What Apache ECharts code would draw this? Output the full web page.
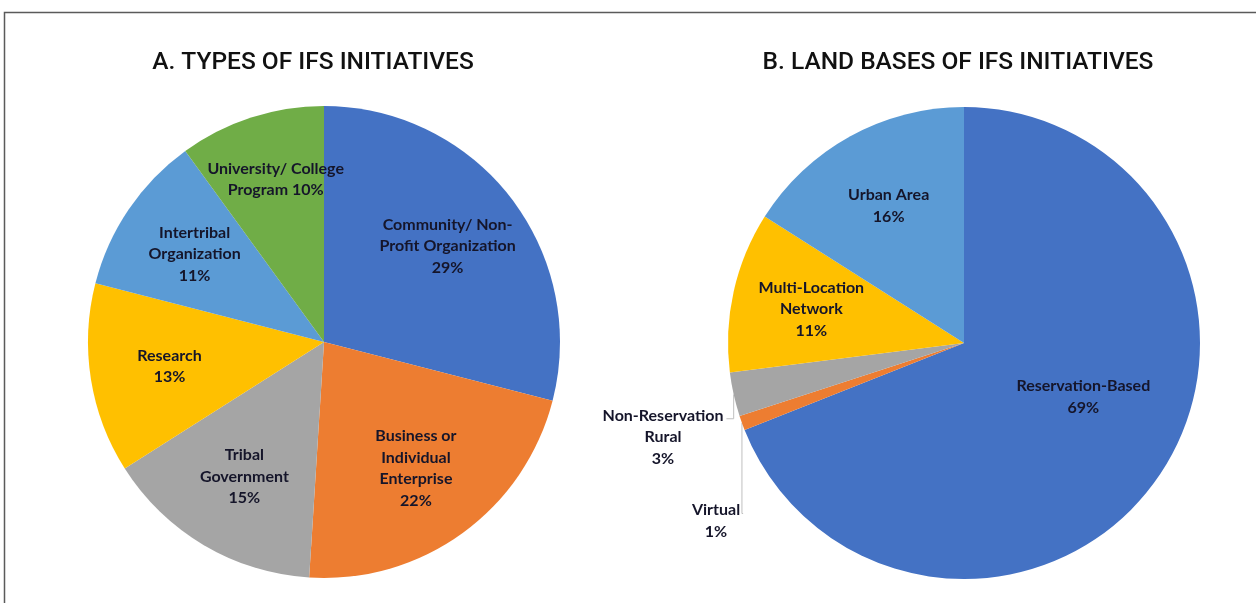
<!DOCTYPE html>
<html>
<head>
<meta charset="utf-8">
<script src="https://cdn.jsdelivr.net/npm/echarts@6/dist/echarts.min.js"></script>
<style>
html,body{margin:0;padding:0;background:#fff;}
#main{width:1256px;height:603px;}
</style>
</head>
<body>
<div id="main"></div>
<script>
// ---- Data ----
const titleA = 'A. TYPES OF IFS INITIATIVES';
const titleB = 'B. LAND BASES OF IFS INITIATIVES';

const typeCategories = ['Community/ Non-Profit Organization', 'Business or Individual Enterprise', 'Tribal Government', 'Research', 'Intertribal Organization', 'University/ College Program'];
const typeLabels = ['Community/ Non-\nProfit Organization', 'Business or\nIndividual\nEnterprise', 'Tribal\nGovernment', 'Research', 'Intertribal\nOrganization', 'University/ College\nProgram'];
const typeValues = [29, 22, 15, 13, 11, 10];

const landCategories = ['Reservation-Based', 'Virtual', 'Non-Reservation Rural', 'Multi-Location Network', 'Urban Area'];
const landLabels = ['Reservation-Based', 'Virtual', 'Non-Reservation\nRural', 'Multi-Location\nNetwork', 'Urban Area'];
const landValues = [69, 1, 3, 11, 16];

// ---- Styles ----
const typeColors = ['#4472C4', '#ED7D31', '#A5A5A5', '#FFC000', '#5B9BD5', '#70AD47'];
const landColors = ['#4472C4', '#ED7D31', '#A5A5A5', '#FFC000', '#5B9BD5'];
const outsideLand = ['Virtual', 'Non-Reservation Rural'];

const FONT = 'Lato';
const TXT = '#15152a';
const R = 236;
const centerA = [324, 342];
const centerB = [964, 343];
const LH = 21.5;

function fmtFor(txt) {
  return function (p) {
    const sep = p.name.indexOf('University') === 0 ? ' ' : '\n';
    return txt + sep + p.value + '%';
  };
}
const labelStyle = {
  fontFamily: FONT, fontWeight: 'bold', fontSize: 16, lineHeight: LH,
  color: TXT, align: 'center'
};

// point on a pie's rim at the middle of slice i (angles from the data)
function rimPoint(vals, i, center) {
  const total = vals.reduce((a, b) => a + b, 0);
  let cum = 0;
  for (let k = 0; k < i; k++) cum += vals[k];
  const ang = (cum + vals[i] / 2) / total * 2 * Math.PI;
  return [center[0] + R * Math.sin(ang), center[1] - R * Math.cos(ang)];
}

// placement of the two outside labels (label centres)
const outsidePos = { 'Virtual': [716, 521], 'Non-Reservation Rural': [663, 437] };

// main visible pies
const seriesTypes = {
  type: 'pie', center: centerA, radius: [0, R], startAngle: 90, clockwise: true,
  silent: true, label: { show: false }, labelLine: { show: false },
  itemStyle: { borderWidth: 0 },
  data: typeCategories.map((c, i) => ({ name: c, value: typeValues[i], itemStyle: { color: typeColors[i] } }))
};

const seriesLand = {
  type: 'pie', center: centerB, radius: [0, R], startAngle: 90, clockwise: true,
  silent: true, avoidLabelOverlap: false,
  itemStyle: { borderWidth: 0 },
  label: Object.assign({ position: 'outside' }, labelStyle),
  labelLine: { show: true, length: 10, length2: 6, smooth: false, lineStyle: { color: '#bfbfbf', width: 1 } },
  labelLayout: function (p) {
    const name = landCategories[p.dataIndex];
    const pos = outsidePos[name];
    if (!pos) return {};
    const w = p.labelRect.width, h = p.labelRect.height;
    const rim = rimPoint(landValues, p.dataIndex, centerB);
    const yA = pos[1] - h / 2 + 14;
    return {
      x: pos[0], y: pos[1], align: 'center', verticalAlign: 'middle',
      labelLinePoints: [rim, [rim[0], yA], [pos[0] + w / 2 + 3, yA]]
    };
  },
  data: landCategories.map((c, i) => {
    const out = outsideLand.indexOf(c) >= 0;
    return {
      name: c, value: landValues[i], itemStyle: { color: landColors[i] },
      label: { show: out, formatter: fmtFor(landLabels[i]) },
      labelLine: { show: out }
    };
  })
};

// transparent overlays that carry the inside labels (label at 0.65 R)
function overlay(center, cats, labels, vals, skip, nudge) {
  return {
    type: 'pie', center: center, radius: [0, R * 1.3], startAngle: 90, clockwise: true,
    silent: true, avoidLabelOverlap: false, z: 5,
    itemStyle: { color: 'rgba(0,0,0,0)', borderWidth: 0 },
    label: Object.assign({ show: true, position: 'inside' }, labelStyle),
    labelLine: { show: false },
    labelLayout: nudge,
    data: cats.map((c, i) => ({
      name: c, value: vals[i],
      itemStyle: { color: 'rgba(0,0,0,0)' },
      label: { show: skip.indexOf(c) < 0, formatter: fmtFor(labels[i]) }
    }))
  };
}

const titleStyle = { fontFamily: 'Roboto', fontWeight: 500, fontSize: 24.5, color: '#111' };

const chart = echarts.init(document.getElementById('main'), null, { renderer: 'canvas' });
chart.setOption({
  backgroundColor: '#ffffff',
  animation: false,
  title: [
    { text: titleA, left: 308, top: 45, textAlign: 'center', textStyle: titleStyle },
    { text: titleB, left: 953, top: 45, textAlign: 'center', textStyle: titleStyle }
  ],
  graphic: [{
    type: 'rect', shape: { x: 4.5, y: 12.5, width: 1400, height: 800 },
    style: { fill: 'none', stroke: '#5a5a5a', lineWidth: 1.5 }, silent: true, z: 0
  }],
  series: [
    seriesTypes,
    seriesLand,
    overlay(centerA, typeCategories, typeLabels, typeValues, [], function (p) {
      if (p.dataIndex === 5) return { dy: -14 };
      return {};
    }),
    overlay(centerB, landCategories, landLabels, landValues, outsideLand, function (p) {
      if (p.dataIndex === 0) return { dx: -10, dy: -34 };
      return {};
    })
  ]
});
</script>
</body>
</html>
